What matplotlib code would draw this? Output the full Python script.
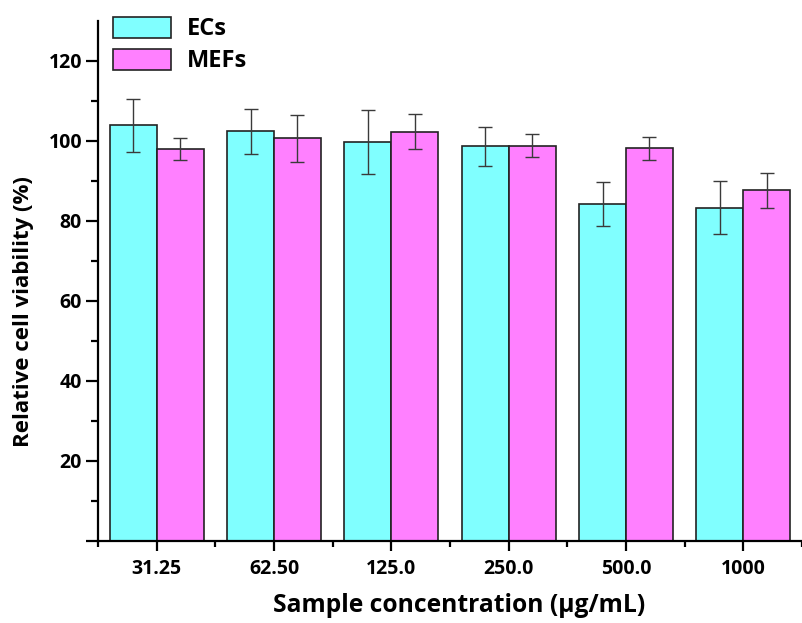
import matplotlib
matplotlib.use("Agg")
import matplotlib.pyplot as plt
import numpy as np

plt.rcParams['font.family'] = ['Open Sans', 'DejaVu Sans']
plt.rcParams['font.weight'] = 'bold'

categories = ["31.25", "62.50", "125.0", "250.0", "500.0", "1000"]
ecs_values = [103.9, 102.4, 99.6, 98.6, 84.3, 83.3]
ecs_errors = [6.6, 5.6, 8.0, 4.8, 5.5, 6.7]
mefs_values = [98.0, 100.6, 102.3, 98.8, 98.1, 87.6]
mefs_errors = [2.7, 5.8, 4.3, 2.8, 2.8, 4.4]

W, H = 802, 623
fig = plt.figure(figsize=(W / 100, H / 100), dpi=100)
ax_left, ax_bottom, ax_top = 98, 540.7, 20.7
ax = fig.add_axes([ax_left / W, (H - ax_bottom) / H, (W - ax_left) / W, (ax_bottom - ax_top) / H])

x = np.arange(len(categories))
bw = 0.4
err_kw = dict(ecolor='#3a3a3a', elinewidth=1.0, capsize=5, capthick=1.0)
ax.bar(x - bw / 2, ecs_values, bw, yerr=ecs_errors, color='#80FFFF',
       edgecolor='#222222', linewidth=1.2, label='ECs', error_kw=err_kw)
ax.bar(x + bw / 2, mefs_values, bw, yerr=mefs_errors, color='#FF80FF',
       edgecolor='#222222', linewidth=1.2, label='MEFs', error_kw=err_kw)

ax.set_xlim(-0.5, (W - 157) / 118)
ax.set_ylim(0, 130)

ax.spines['top'].set_visible(False)
ax.spines['right'].set_visible(False)
for s in ['left', 'bottom']:
    ax.spines[s].set_linewidth(1.6)

ax.set_yticks([0, 20, 40, 60, 80, 100, 120])
ax.set_yticklabels(['', '20', '40', '60', '80', '100', '120'])
ax.set_yticks([10, 30, 50, 70, 90, 110], minor=True)
ax.set_xticks(x)
ax.set_xticklabels(categories)
ax.set_xticks(np.arange(-0.5, 5.6, 1.0), minor=True)

ax.tick_params(axis='both', which='major', direction='out', length=8.5, width=1.6,
               labelsize=14, pad=3)
ax.tick_params(axis='both', which='minor', direction='out', length=5, width=1.6)
ax.tick_params(axis='x', which='major', length=7.5, pad=6)
ax.tick_params(axis='x', which='minor', length=4.5)
for lbl in ax.get_xticklabels() + ax.get_yticklabels():
    lbl.set_fontweight('bold')

fig.text(24 / W, (H - 312) / H, 'Relative cell viability (%)', rotation=90,
         ha='center', va='center', fontsize=16.0, fontweight='bold')
fig.text(459 / W, (H - 606) / H, 'Sample concentration (μg/mL)',
         ha='center', va='center', fontsize=17.7, fontweight='bold')

leg = fig.legend(loc='upper left', bbox_to_anchor=(113 / W, (H - 17) / H),
                 bbox_transform=fig.transFigure, frameon=False,
                 fontsize=17, handlelength=2.46, handleheight=0.97,
                 labelspacing=0.32, handletextpad=0.65, borderaxespad=0, borderpad=0)
for t in leg.get_texts():
    t.set_fontweight('bold')

fig.savefig('out.png', dpi=100)
